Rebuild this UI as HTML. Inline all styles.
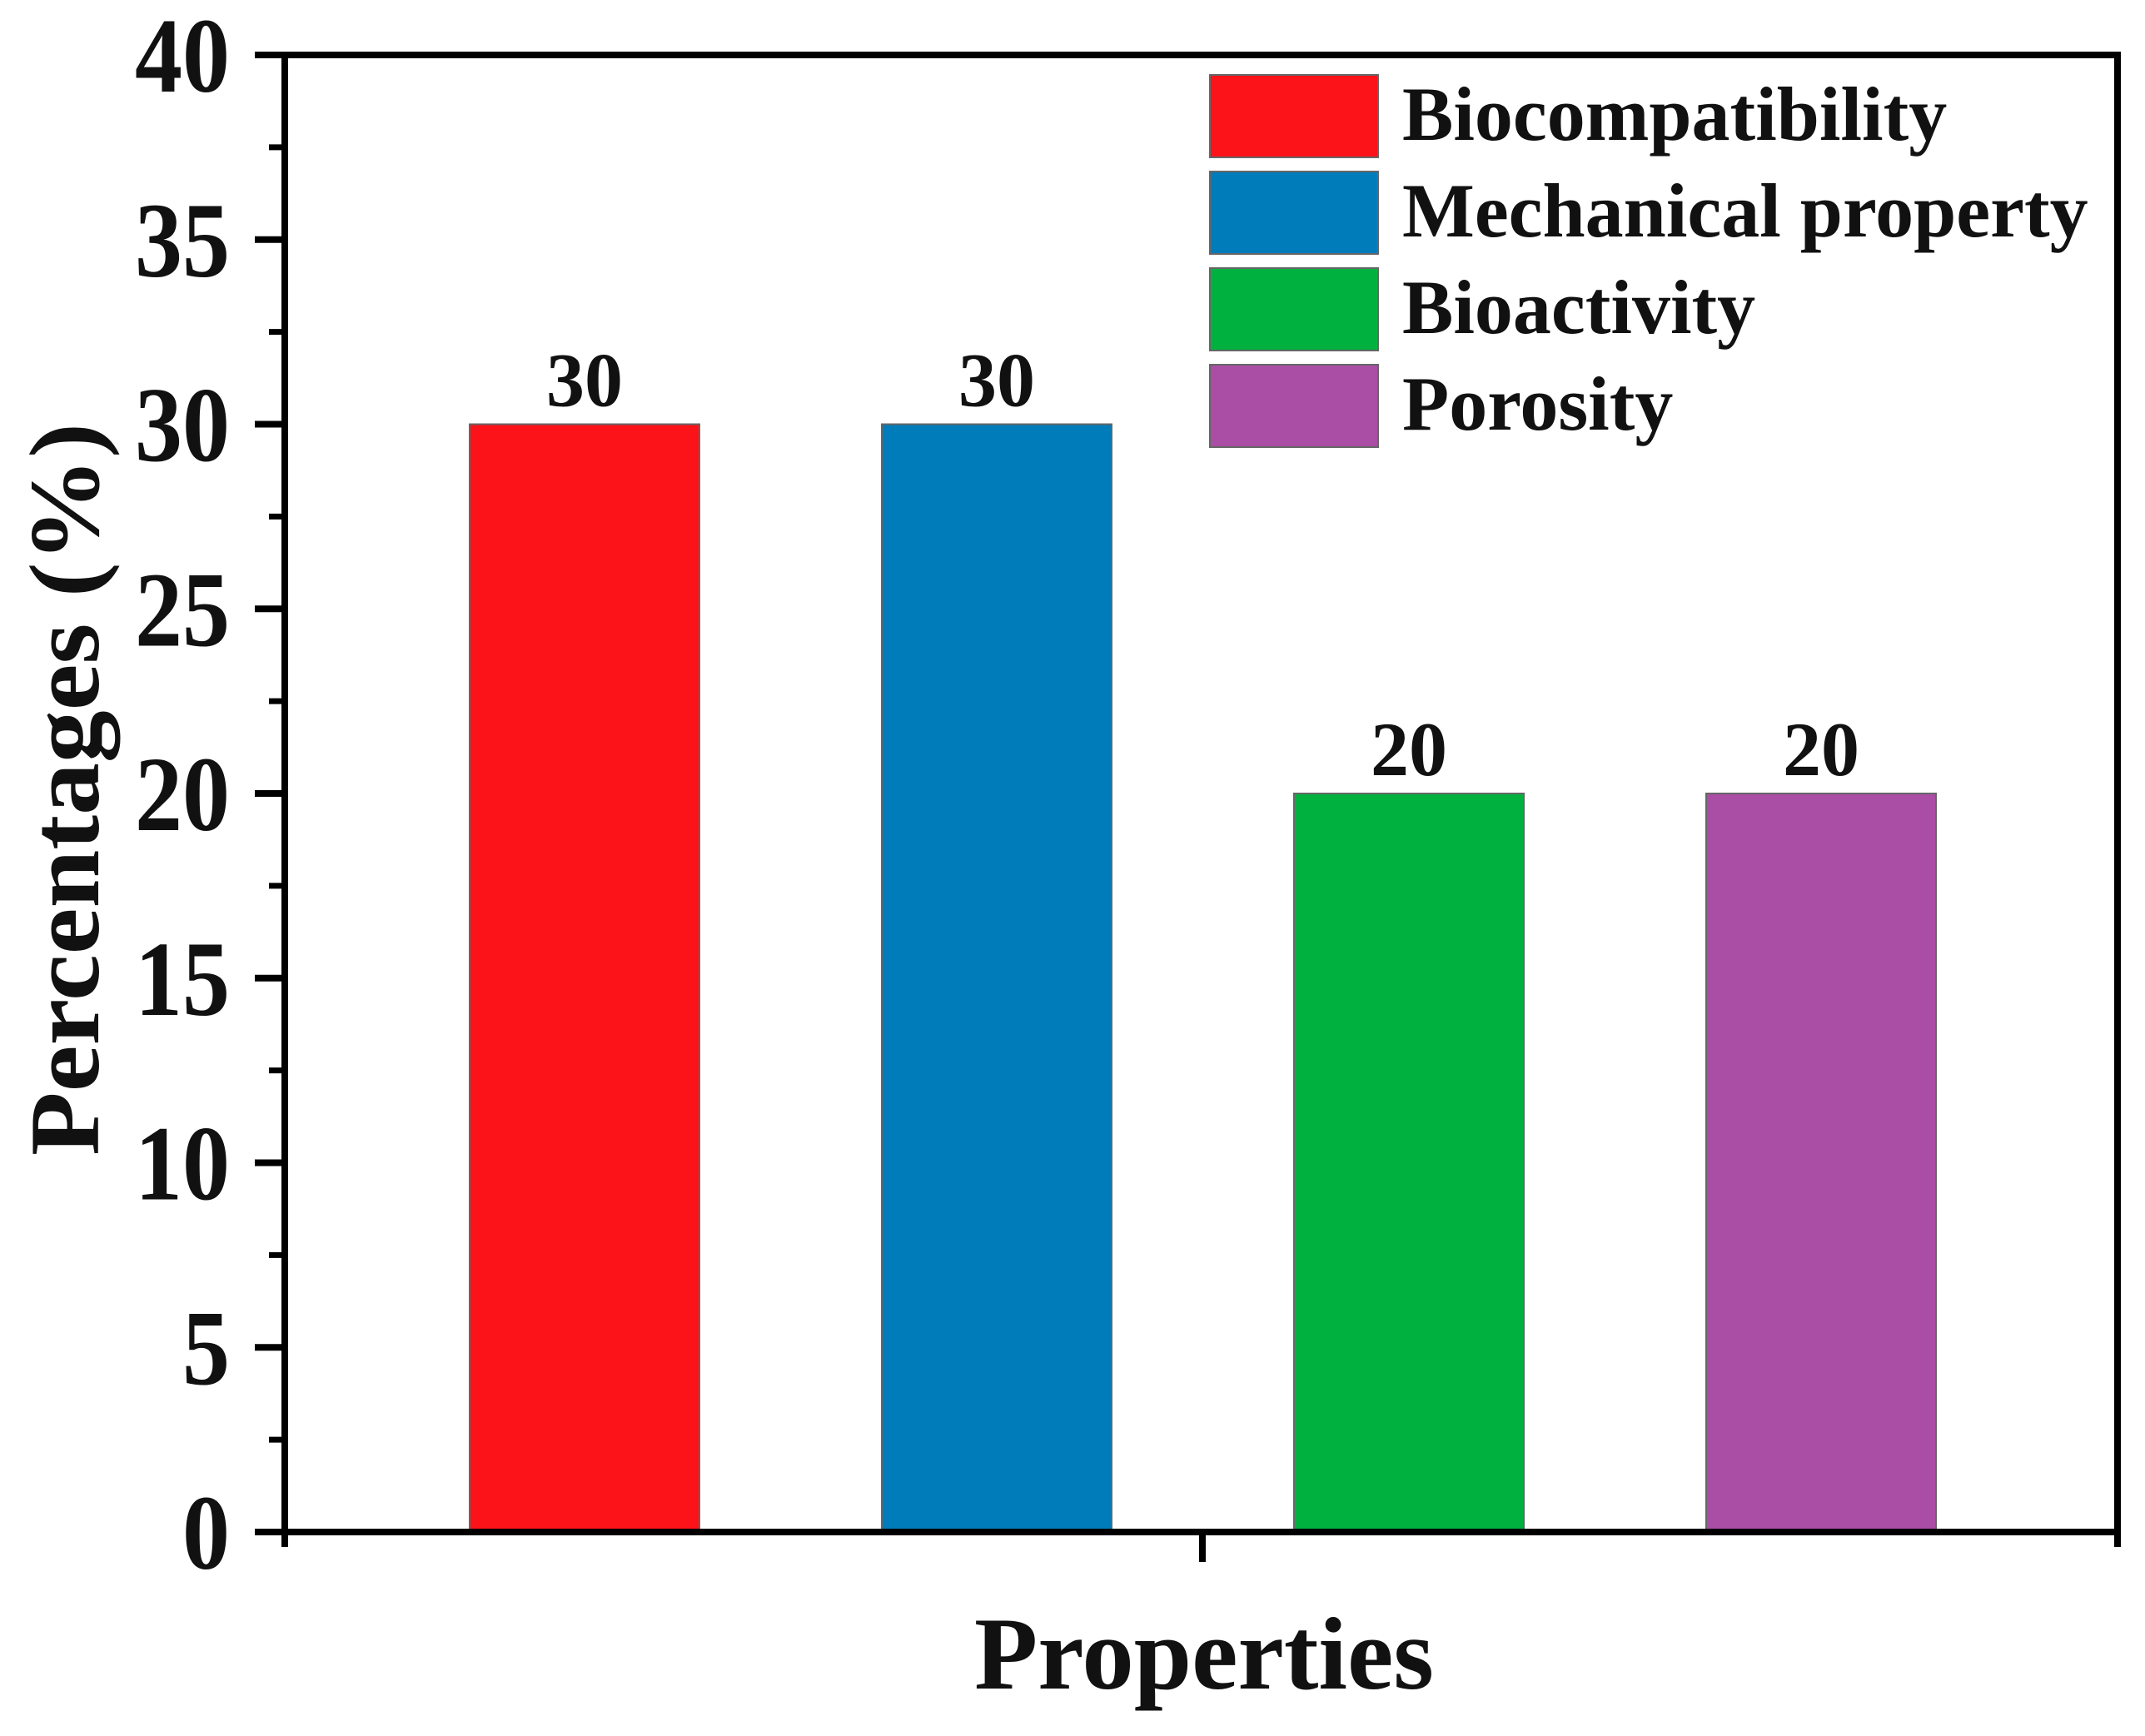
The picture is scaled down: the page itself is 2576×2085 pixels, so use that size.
<!DOCTYPE html>
<html><head><meta charset="utf-8"><style>
html,body{margin:0;padding:0;background:#fff;}
svg{display:block;font-family:"Liberation Serif",serif;font-weight:bold;}
</style></head><body>
<svg id="chart" width="2576" height="2085" viewBox="0 0 2576 2085">
<g id="plot"></g>
</svg>
<script>
const categories = ["Biocompatibility","Mechanical property","Bioactivity","Porosity"];
const values = [30,30,20,20];
const colors = ["#fc1219","#017cba","#00b140","#aa4ea5"];
const yTicks = [0,5,10,15,20,25,30,35,40];

const NS="http://www.w3.org/2000/svg";
const svg=document.getElementById('plot');
const L=342,R=2543,T=66,B=1840,yMax=40;
const y=v=>B-(v/yMax)*(B-T);
const barCenter=i=>702+i*495;
const barW=276;
function mk(tag,attrs,parent){const e=document.createElementNS(NS,tag);for(const k in attrs)e.setAttribute(k,attrs[k]);(parent||svg).appendChild(e);return e;}

// bars
values.forEach((v,i)=>{
  const r=mk('rect',{x:barCenter(i)-barW/2,y:y(v),width:barW,height:B-y(v),fill:colors[i],stroke:'#666','stroke-width':2});
  
  
  const t=mk('text',{x:barCenter(i),y:y(v)-22,'text-anchor':'middle','font-size':92,fill:'#111'});
  t.textContent=String(v);
  
  
});

// axes frame
const f=mk('rect',{x:L,y:T,width:R-L,height:B-T,fill:'none',stroke:'#000','stroke-width':8});


mk('line',{x1:R,y1:B,x2:R,y2:B+18,stroke:'#000','stroke-width':8});
mk('line',{x1:L,y1:B,x2:L,y2:B+18,stroke:'#000','stroke-width':8});
mk('line',{x1:1444,y1:B,x2:1444,y2:B+36,stroke:'#000','stroke-width':8});

// y ticks
yTicks.forEach(v=>{
  mk('line',{x1:L-36,y1:y(v),x2:L,y2:y(v),stroke:'#000','stroke-width':8});
  const s=String(v);
  const t=mk('text',{x:276,y:y(v)+44,'text-anchor':'end','font-size':128,fill:'#111',textLength:s.length*57,lengthAdjust:'spacingAndGlyphs'});
  t.textContent=s;
  
  
});
for(let v=2.5;v<yMax;v+=5){mk('line',{x1:L-19,y1:y(v),x2:L,y2:y(v),stroke:'#000','stroke-width':7});}

// titles
const yt=mk('text',{x:0,y:0,'text-anchor':'middle','font-size':120,fill:'#111',transform:'translate(118,948) rotate(-90)',textLength:880,lengthAdjust:'spacingAndGlyphs'});
yt.textContent='Percentages (%)';


const xt=mk('text',{x:1446,y:2028,'text-anchor':'middle','font-size':124,fill:'#111',textLength:552,lengthAdjust:'spacingAndGlyphs'});
xt.textContent='Properties';



// legend
categories.forEach((c,i)=>{
  const top=90+i*116;
  const g=mk('g',{});
  
  
  mk('rect',{x:1453,y:top,width:202,height:99,fill:colors[i],stroke:'#666','stroke-width':2},g);
  const t=mk('text',{x:1684,y:top+78,'font-size':92,fill:'#111'},g);
  t.textContent=c;
});
</script>
</body></html>
